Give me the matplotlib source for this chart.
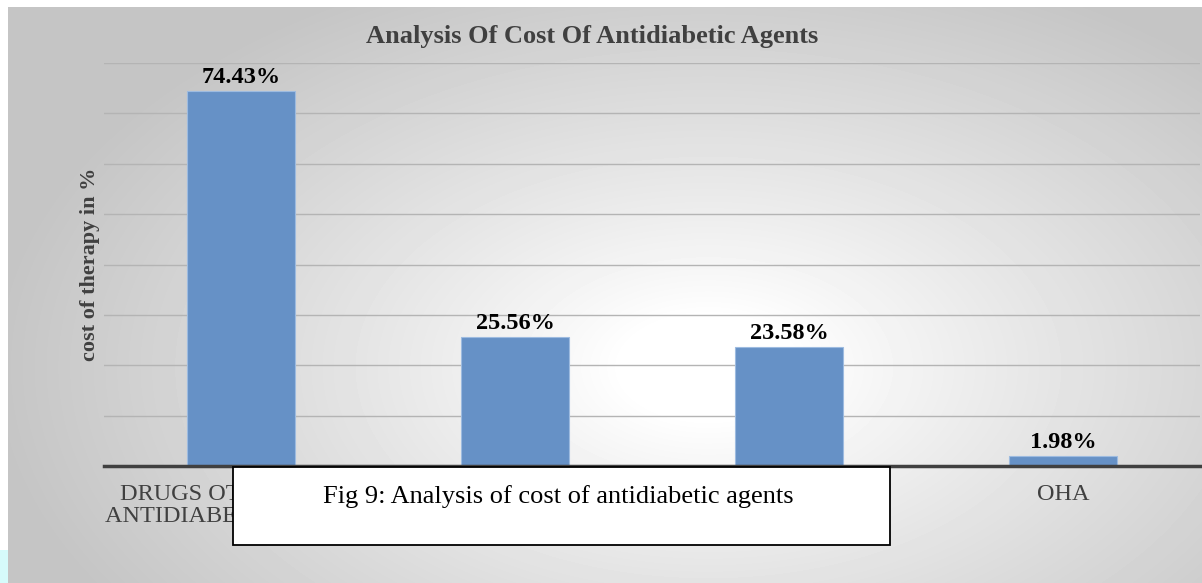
import numpy as np
import matplotlib; matplotlib.use("Agg")
import matplotlib.pyplot as plt
from matplotlib.patches import Rectangle

categories = ["DRUGS OTHER THAN\nANTIDIABETIC AGENTS", "INSULIN", "INSULIN + OHA", "OHA"]
values = [74.43, 25.56, 23.58, 1.98]
labels = ["74.43%", "25.56%", "23.58%", "1.98%"]

SERIF = ["Liberation Serif", "DejaVu Serif"]
W, H = 1202, 583
fig = plt.figure(figsize=(W / 100, H / 100), dpi=100)
fig.patch.set_facecolor("white")

# radial grey gradient behind the chart (white in the middle, grey at the edges)
bg = fig.add_axes([8 / W, 0, 1 - 8 / W, 1 - 7 / H])
yy, xx = np.mgrid[0:576, 0:1194]
r = np.hypot((xx - 700) / 720.0, (yy - 360) / 430.0)
shade = 1.0 - 0.23 * np.clip((r - 0.12) / 0.88, 0, 1) ** 0.9
bg.imshow(shade, cmap="gray", vmin=0, vmax=1, aspect="auto", interpolation="bilinear")
bg.axis("off")
fig.patches.append(Rectangle((0, 0), 8 / W, 33 / H, transform=fig.transFigure,
                             facecolor="#d6fbfb", edgecolor="none"))

ax = fig.add_axes([104 / W, (H - 466) / H, (1200 - 104) / W, (466 - 63) / H])
ax.patch.set_alpha(0)
x = np.arange(len(categories))
ax.bar(x, values, width=0.395, color="#6691c6", edgecolor="#9dbbe0", linewidth=0.8, zorder=3)
for xi, v, t in zip(x, values, labels):
    ax.text(xi, v + 0.6, t, ha="center", va="bottom", fontsize=17.5, fontweight="bold",
            family=SERIF, color="black", zorder=4)

ax.set_xlim(-0.5, 3.5)
ax.set_ylim(0, 80)
ax.set_yticks(np.arange(0, 81, 10))
ax.yaxis.grid(True, color="#b4b4b4", lw=1.0, zorder=0)
ax.tick_params(axis="y", length=0, labelleft=False)
ax.tick_params(axis="x", length=0, pad=13)
ax.set_xticks(x)
ax.set_xticklabels(categories, fontsize=17.5, family=SERIF, color="#404040", linespacing=1.05)
for s in ("top", "right", "left"):
    ax.spines[s].set_visible(False)
ax.spines["bottom"].set_color("#404040")
ax.spines["bottom"].set_linewidth(2.5)
ax.spines["bottom"].set_zorder(5)

ax.set_ylabel("cost of therapy in %", fontsize=16, fontweight="bold", family=SERIF,
              color="#404040", labelpad=3)

fig.text(592 / W, 1 - 36 / H, "Analysis Of Cost Of Antidiabetic Agents", ha="center", va="center",
         fontsize=19, fontweight="bold", family=SERIF, color="#404040")

# caption box overlaying the category labels
fig.patches.append(Rectangle((233 / W, (H - 545) / H), (890 - 233) / W, (545 - 467) / H,
                             transform=fig.transFigure, facecolor="white", edgecolor="black",
                             linewidth=1.3, zorder=10))
fig.text(323 / W, 1 - 497 / H, "Fig 9: Analysis of cost of antidiabetic agents", ha="left",
         va="center", fontsize=19, family=SERIF, color="black", zorder=11)

fig.savefig("out.png", dpi=100)
